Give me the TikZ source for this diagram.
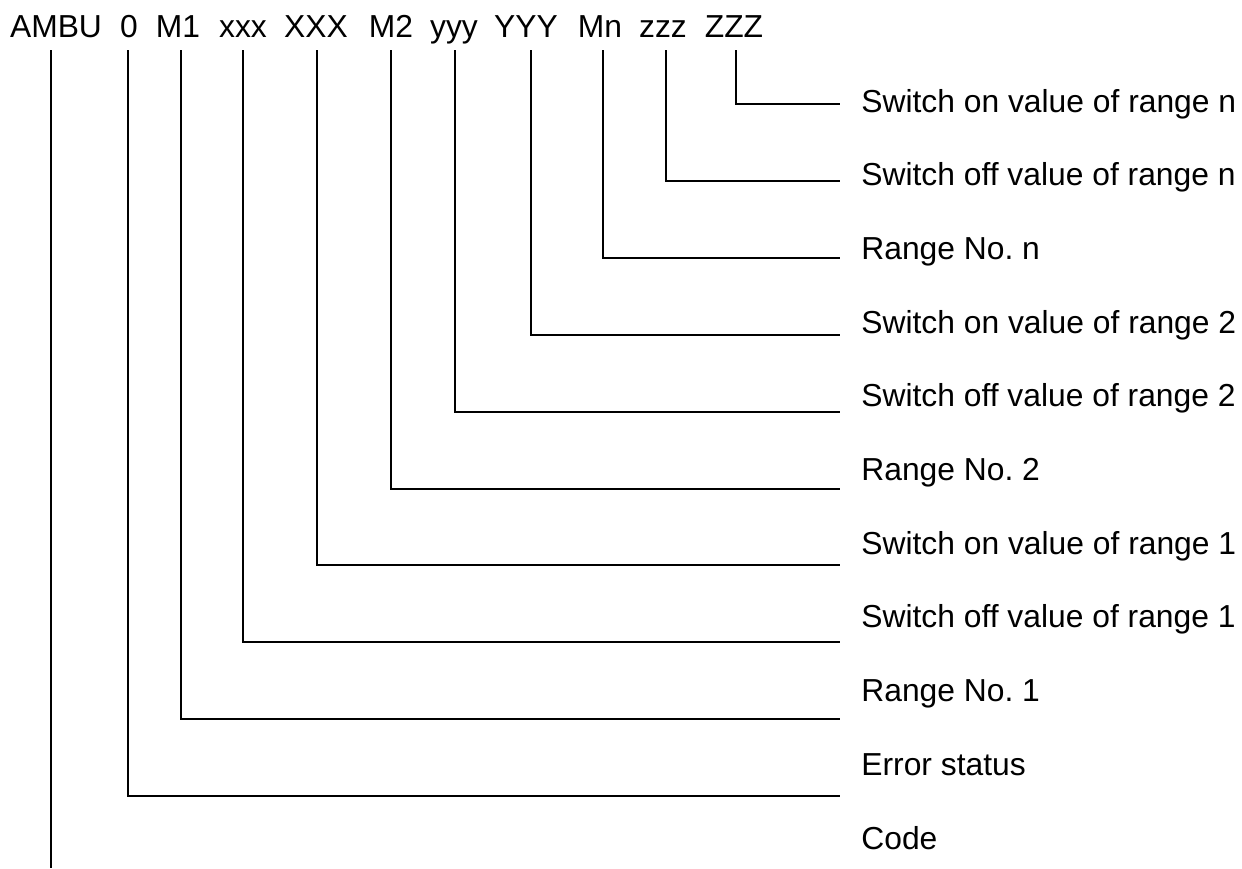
\documentclass[tikz,border=0pt]{standalone}
\usepackage{fontspec}
\setmainfont{Liberation Sans}
\frenchspacing
\begin{document}
\begin{tikzpicture}[x=0.5pt, y=-0.5pt, every node/.style={font=\fontsize{15.9}{18}\selectfont, inner sep=0pt}, tok/.style={anchor=base}, lab/.style={anchor=base west}, ln/.style={line width=1pt}]
	\useasboundingbox (0,0) rectangle (1242,868);
	% telegram fields
	\node[tok] (ambu) at (56,37) {AMBU};
	\node[tok] (zero) at (129,37) {0};
	\node[tok] (m1) at (178,37) {M1};
	\node[tok] (xl) at (243,37) {xxx};
	\node[tok] (xu) at (316,37) {XXX};
	\node[tok] (m2) at (391,37) {M2};
	\node[tok] (yl) at (454,37) {yyy};
	\node[tok] (yu) at (526,37) {YYY};
	\node[tok] (mn) at (600,37) {Mn};
	\node[tok] (zl) at (663,37) {zzz};
	\node[tok] (zu) at (734,37) {ZZZ};
	% line ends
	\coordinate (zuE) at (840,104);
	\coordinate (zlE) at (840,181);
	\coordinate (mnE) at (840,258);
	\coordinate (yuE) at (840,335);
	\coordinate (ylE) at (840,412);
	\coordinate (m2E) at (840,488.5);
	\coordinate (xuE) at (840,565);
	\coordinate (xlE) at (840,642);
	\coordinate (m1E) at (840,719);
	\coordinate (zeroE) at (840,796);
	\coordinate (ambuE) at (51,868);
	% descriptions
	\node[lab] (lzu) at (861,112) {Switch on value of range n};
	\node[lab] (lzl) at (861,185.7) {Switch off value of range n};
	\node[lab] (lmn) at (861,259.4) {Range No. n};
	\node[lab] (lyu) at (861,333.1) {Switch on value of range 2};
	\node[lab] (lyl) at (861,406.8) {Switch off value of range 2};
	\node[lab] (lm2) at (861,480.5) {Range No. 2};
	\node[lab] (lxu) at (861,554.2) {Switch on value of range 1};
	\node[lab] (lxl) at (861,627.9) {Switch off value of range 1};
	\node[lab] (lm1) at (861,701.6) {Range No. 1};
	\node[lab] (lzero) at (861,775.3) {Error status};
	\node[lab] (lambu) at (861,849) {Code};
	% leaders
	\draw[ln] ([xshift=1pt]zu.base) ++(0,13) |- (zuE);
	\draw[ln] ([xshift=1.5pt]zl.base) ++(0,13) |- (zlE);
	\draw[ln] ([xshift=1.5pt]mn.base) ++(0,13) |- (mnE);
	\draw[ln] ([xshift=2.5pt]yu.base) ++(0,13) |- (yuE);
	\draw[ln] ([xshift=0.5pt]yl.base) ++(0,13) |- (ylE);
	\draw[ln] (m2.base) ++(0,13) |- (m2E);
	\draw[ln] ([xshift=0.5pt]xu.base) ++(0,13) |- (xuE);
	\draw[ln] (xl.base) ++(0,13) |- (xlE);
	\draw[ln] ([xshift=1.5pt]m1.base) ++(0,13) |- (m1E);
	\draw[ln] ([xshift=-0.5pt]zero.base) ++(0,13) |- (zeroE);
	\draw[ln] ([xshift=-2.5pt]ambu.base) ++(0,13) -- (ambuE);
\end{tikzpicture}
\end{document}
